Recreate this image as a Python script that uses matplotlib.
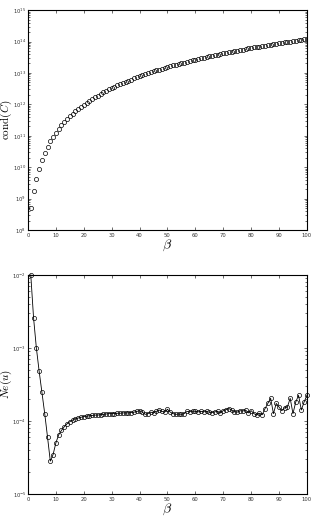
import matplotlib
matplotlib.use("Agg")
import matplotlib.pyplot as plt
import numpy as np

# beta values
beta = list(range(1, 101))

# log10 of cond(C)
log_cond = [
    8.71, 9.24, 9.63, 9.96, 10.23, 10.45, 10.65, 10.82, 10.96, 11.09,
    11.21, 11.33, 11.43, 11.53, 11.62, 11.70, 11.78, 11.86, 11.93, 11.99,
    12.06, 12.12, 12.18, 12.23, 12.28, 12.33, 12.38, 12.43, 12.48, 12.52,
    12.56, 12.61, 12.65, 12.68, 12.72, 12.76, 12.79, 12.83, 12.86, 12.90,
    12.93, 12.96, 12.99, 13.02, 13.05, 13.08, 13.11, 13.13, 13.16, 13.19,
    13.21, 13.24, 13.26, 13.29, 13.31, 13.33, 13.36, 13.38, 13.40, 13.42,
    13.44, 13.46, 13.49, 13.51, 13.53, 13.55, 13.56, 13.58, 13.60, 13.62,
    13.64, 13.66, 13.68, 13.69, 13.71, 13.73, 13.74, 13.76, 13.78, 13.79,
    13.81, 13.83, 13.84, 13.86, 13.87, 13.89, 13.90, 13.92, 13.93, 13.95,
    13.96, 13.97, 13.99, 14.00, 14.02, 14.03, 14.04, 14.06, 14.07, 14.08,
]

# log10 of Ne(u)
log_ne = [
    -2.00, -2.59, -3.00, -3.32, -3.61, -3.90, -4.22, -4.55, -4.46, -4.30,
    -4.19, -4.13, -4.08, -4.04, -4.01, -3.99, -3.97, -3.96, -3.95, -3.94,
    -3.935, -3.93, -3.925, -3.92, -3.92, -3.915, -3.91, -3.905, -3.90, -3.90,
    -3.90, -3.895, -3.895, -3.89, -3.89, -3.89, -3.885, -3.88, -3.87, -3.86,
    -3.88, -3.91, -3.90, -3.88, -3.89, -3.87, -3.85, -3.87, -3.88, -3.84,
    -3.88, -3.90, -3.91, -3.905, -3.91, -3.90, -3.87, -3.875, -3.865, -3.87,
    -3.875, -3.87, -3.875, -3.87, -3.88, -3.885, -3.875, -3.87, -3.89, -3.86,
    -3.845, -3.83, -3.85, -3.875, -3.88, -3.86, -3.865, -3.85, -3.89, -3.86,
    -3.90, -3.92, -3.895, -3.915, -3.83, -3.76, -3.69, -3.90, -3.76, -3.81,
    -3.86, -3.82, -3.81, -3.69, -3.90, -3.74, -3.65, -3.85, -3.74, -3.65,
]

cond = 10.0 ** np.array(log_cond)
ne = 10.0 ** np.array(log_ne)

plt.rcParams['mathtext.fontset'] = 'cm'

fig = plt.figure(figsize=(3.12, 5.23), dpi=100)
ax1 = fig.add_axes([0.0897, 0.560, 0.894, 0.4207])
ax2 = fig.add_axes([0.0897, 0.0555, 0.894, 0.419])


def style(ax):
    ax.set_xlim(0, 100)
    ax.set_xticks(range(0, 101, 10))
    ax.tick_params(which='both', direction='in', top=True, right=True,
                   labelsize=3.8, colors='#333333', width=0.5)
    ax.tick_params(which='major', length=2.5)
    ax.tick_params(which='minor', length=1.2)
    ax.tick_params(axis='x', pad=2)
    ax.tick_params(axis='y', pad=1.2)
    for s in ax.spines.values():
        s.set_linewidth(0.8)
    ax.set_xlabel(r'$\beta$', fontsize=10, labelpad=0)
    ax.yaxis.set_label_coords(-0.05, 0.5)


ax1.semilogy(beta, cond, linestyle='none', marker='o', markersize=3,
             markerfacecolor='none', markeredgecolor='black',
             markeredgewidth=0.5)
ax1.set_ylim(1e8, 1e15)
style(ax1)
ax1.set_ylabel(r'$\mathrm{cond}(C)$', fontsize=8)

ax2.semilogy(beta, ne, color='black', linewidth=0.6, marker='o',
             markersize=3, markerfacecolor='none', markeredgecolor='black',
             markeredgewidth=0.5, clip_on=False)
ax2.set_ylim(1e-5, 1e-2)
style(ax2)
ax2.set_ylabel(r'$Ne(u)$', fontsize=8)

fig.savefig('out.png', dpi=100)
